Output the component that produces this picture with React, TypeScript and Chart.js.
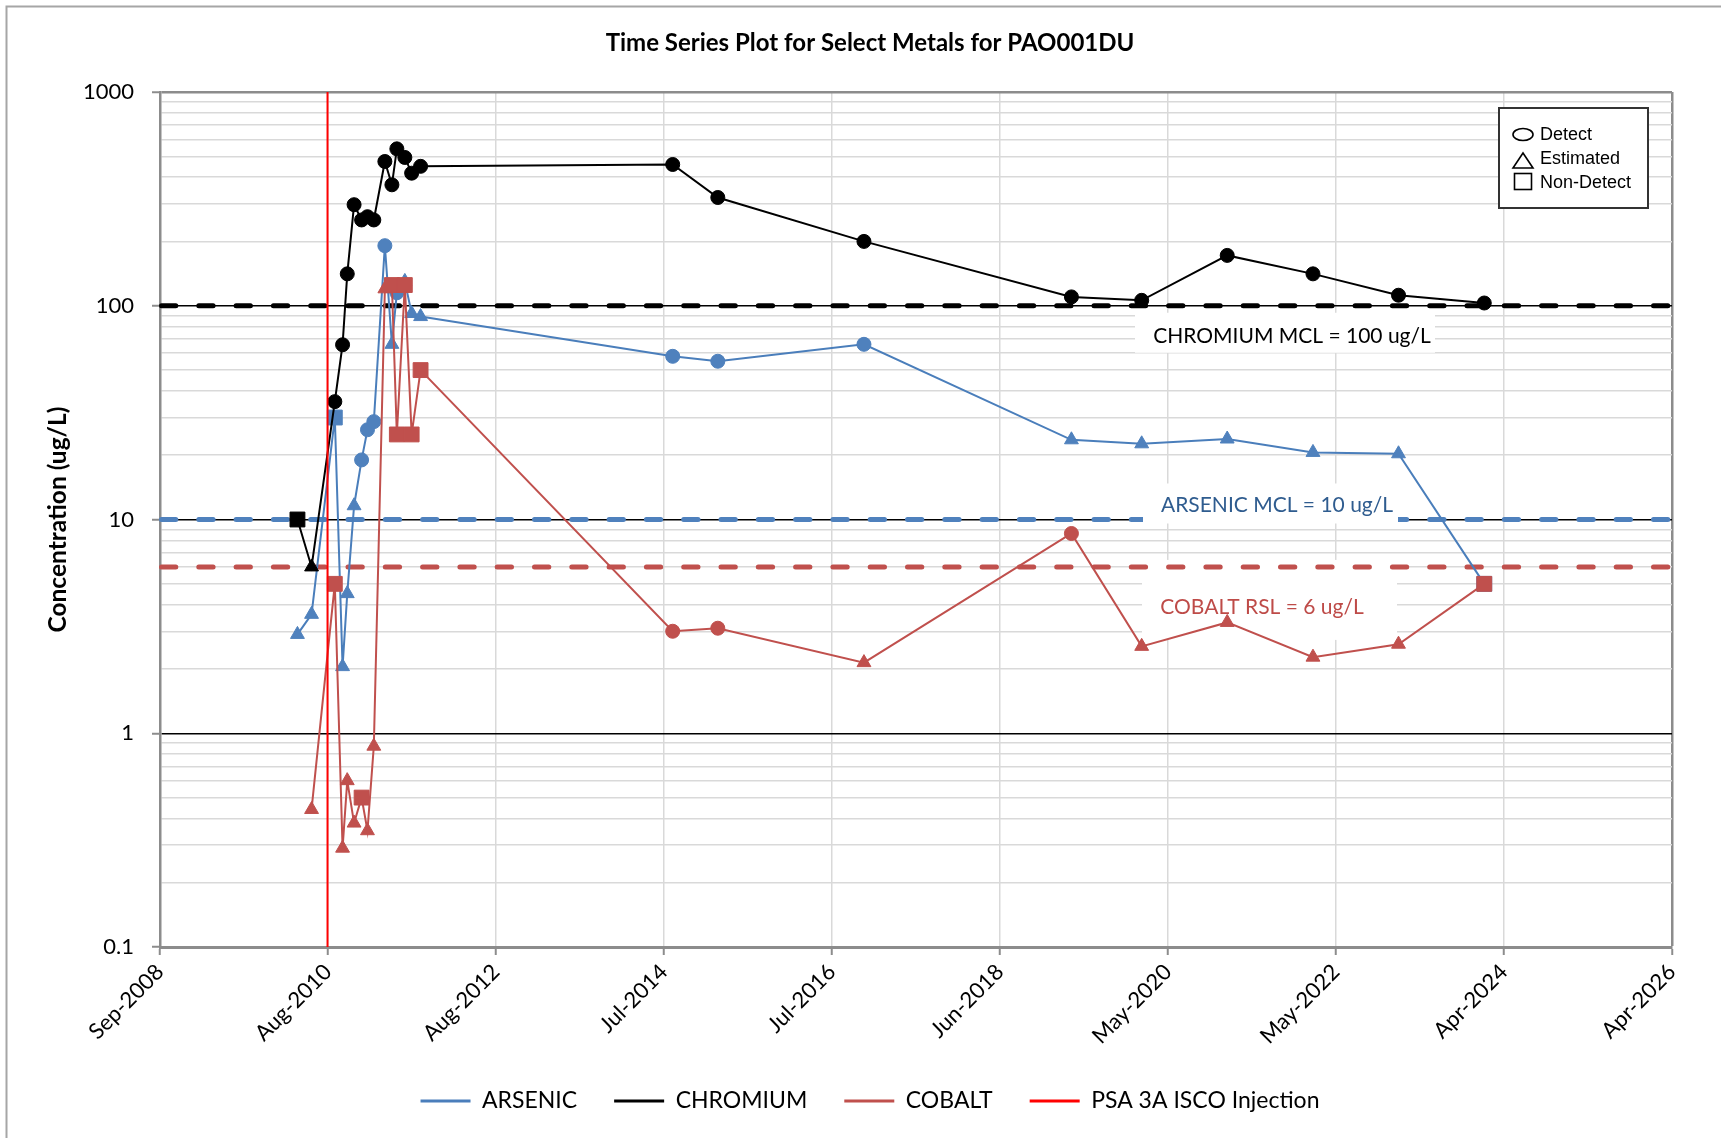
import React, { useEffect, useRef } from "react";
import { Chart, registerables } from "chart.js";

Chart.register(...registerables);

// ---------------- data ----------------
const TITLE = "Time Series Plot for Select Metals for PAO001DU";
const Y_TITLE = "Concentration (ug/L)";

const X_TICK_LABELS = [
  "Sep-2008", "Aug-2010", "Aug-2012", "Jul-2014", "Jul-2016",
  "Jun-2018", "May-2020", "May-2022", "Apr-2024", "Apr-2026",
];
const X_AXIS_START = "2008-09-01";
const X_TICK_STEP_DAYS = 715;

const Y_DECADES = [0.1, 1, 10, 100, 1000];
const Y_TICK_LABELS = ["0.1", "1", "10", "100", "1000"];
const Y_MINOR_STEPS = [2, 3, 4, 5, 6, 7, 8, 9];

const SAMPLE_DATES = [
  "2010-04-09", "2010-06-08", "2010-09-15", "2010-10-18", "2010-11-07", "2010-12-06",
  "2011-01-07", "2011-02-01", "2011-02-28", "2011-04-16", "2011-05-16", "2011-06-06",
  "2011-07-10", "2011-08-08", "2011-09-15", "2014-08-23", "2015-03-03", "2016-11-14",
  "2019-04-16", "2020-02-09", "2021-02-07", "2022-02-07", "2023-02-06", "2024-02-06",
];

const ARSENIC_VALUES = [
  2.9, 3.6, 30, 2.05, 4.5, 11.6, 19, 26.3, 28.7, 191, 66, 115,
  130, 92, 89, 58, 55, 66, 23.6, 22.6, 23.8, 20.6, 20.3, 5,
];
const ARSENIC_FLAGS = [
  "E", "E", "N", "E", "E", "E", "D", "D", "D", "D", "E", "D",
  "E", "E", "E", "D", "D", "D", "E", "E", "E", "E", "E", "N",
];

const CHROMIUM_VALUES = [
  10, 6, 35.6, 65.7, 141, 297, 252, 261, 252, 473, 368, 542,
  494, 417, 449, 458, 321, 200, 110, 106, 172, 141, 112, 103,
];
const CHROMIUM_FLAGS = [
  "N", "E", "D", "D", "D", "D", "D", "D", "D", "D", "D", "D",
  "D", "D", "D", "D", "D", "D", "D", "D", "D", "D", "D", "D",
];

const COBALT_DATES = [
  "2010-06-08", "2010-09-15", "2010-10-18", "2010-11-07", "2010-12-06",
  "2011-01-07", "2011-02-01", "2011-02-28", "2011-04-16", "2011-05-16", "2011-06-06",
  "2011-07-10", "2011-08-08", "2011-09-15", "2014-08-23", "2015-03-03", "2016-11-14",
  "2019-04-16", "2020-02-09", "2021-02-07", "2022-02-07", "2023-02-06", "2024-02-06",
];
const COBALT_VALUES = [
  0.44, 5, 0.29, 0.6, 0.38, 0.5, 0.35, 0.87, 120, 125, 25, 125,
  25, 50, 3.0, 3.1, 2.14, 8.6, 2.55, 3.3, 2.27, 2.61, 5,
];
const COBALT_FLAGS = [
  "E", "N", "E", "E", "E", "N", "E", "E", "E", "N", "N", "N",
  "N", "N", "D", "D", "E", "D", "E", "E", "E", "E", "N",
];

const INJECTION_DATE = "2010-08-15";
const INJECTION_SPAN = [0.1, 1000];

const CHROMIUM_MCL = 100;
const ARSENIC_MCL = 10;
const COBALT_RSL = 6;
const REF_LABELS = ["CHROMIUM MCL = 100 ug/L", "ARSENIC MCL = 10 ug/L", "COBALT RSL = 6 ug/L"];

const SERIES_LABELS = ["ARSENIC", "CHROMIUM", "COBALT", "PSA 3A ISCO Injection"];
const MARKER_KEY_LABELS = ["Detect", "Estimated", "Non-Detect"];

// ---------------- styles ----------------
const FONT = "Lato";
const C_ARSENIC = "#4A7EBB";
const C_ARSENIC_MARK = "#4F81BD";
const C_CHROMIUM = "#000000";
const C_COBALT = "#C0504D";
const C_INJECTION = "#FF0000";
const C_AXIS = "#8C8C8C";
const C_GRID = "#D9D9D9";

const DAY_MS = 86400000;
const toDay = (s: string) => Date.parse(s) / DAY_MS;

const STYLE_BY_FLAG: Record<string, string> = { D: "circle", E: "triangle", N: "rect" };
const RADIUS_BY_FLAG: Record<string, number> = { D: 7, E: 8, N: 10.5 };

function series(label: string, dates: string[], values: number[], flags: string[], line: string, mark: string, order: number) {
  return {
    label,
    order,
    data: dates.map((d, i) => ({ x: toDay(d), y: values[i] })),
    borderColor: line,
    backgroundColor: mark,
    borderWidth: 2,
    pointStyle: flags.map((f) => STYLE_BY_FLAG[f]),
    pointRadius: flags.map((f) => RADIUS_BY_FLAG[f]),
    pointBackgroundColor: mark,
    pointBorderColor: mark,
    pointBorderWidth: 1,
    tension: 0,
    fill: false,
  };
}

const isDecade = (v: number) => Y_DECADES.indexOf(v) >= 0;

const overlayPlugin = {
  id: "overlay",
  beforeDraw(chart: any) {
    const { ctx, width, height } = chart;
    ctx.save();
    ctx.fillStyle = "#ffffff";
    ctx.fillRect(0, 0, width, height);
    ctx.strokeStyle = "#A6A6A6";
    ctx.lineWidth = 2;
    ctx.beginPath();
    ctx.moveTo(6.5, height);
    ctx.lineTo(6.5, 6.5);
    ctx.lineTo(width, 6.5);
    ctx.stroke();
    ctx.restore();
  },
  beforeDatasetsDraw(chart: any) {
    const { ctx, chartArea: a, scales } = chart;
    const y = scales.y;
    const yCr = y.getPixelForValue(CHROMIUM_MCL);
    const yAs = y.getPixelForValue(ARSENIC_MCL);
    const yCo = y.getPixelForValue(COBALT_RSL);
    ctx.save();
    const box = (x0: number, y0: number, x1: number, y1: number) => {
      ctx.fillStyle = "#ffffff";
      ctx.fillRect(x0, y0, x1 - x0, y1 - y0);
    };
    // cobalt label box lies under the dashed lines
    box(a.right - 530, yCo - 7, a.right - 275, yCo + 73);
    const dashed = (yy: number, color: string) => {
      ctx.beginPath();
      ctx.setLineDash([14.3, 23]);
      ctx.lineCap = "round";
      ctx.lineWidth = 5;
      ctx.strokeStyle = color;
      ctx.moveTo(a.left + 1.5, yy);
      ctx.lineTo(a.right, yy);
      ctx.stroke();
    };
    dashed(yCr, C_CHROMIUM);
    dashed(yAs, C_ARSENIC_MARK);
    dashed(yCo, C_COBALT);
    ctx.setLineDash([]);
    box(a.right - 537, yCr + 7, a.right - 237, yCr + 47);
    box(a.right - 529, yAs - 36, a.right - 274, yAs + 4);

    ctx.font = `21px ${FONT}`;
    ctx.textAlign = "center";
    ctx.textBaseline = "middle";
    ctx.fillStyle = "#000000";
    ctx.fillText(REF_LABELS[0], a.right - 380, yCr + 30);
    ctx.fillStyle = "#2F5C8F";
    ctx.fillText(REF_LABELS[1], a.right - 395, yAs - 14);
    ctx.fillStyle = "#BE4B48";
    ctx.fillText(REF_LABELS[2], a.right - 410, yCo + 40);
    ctx.restore();
  },
  afterDraw(chart: any) {
    const { ctx, chartArea: a } = chart;
    const x0 = a.right - 173;
    const y0 = a.top + 16;
    ctx.save();
    ctx.fillStyle = "#ffffff";
    ctx.fillRect(x0, y0, 149, 100);
    ctx.strokeStyle = "#333333";
    ctx.lineWidth = 2;
    ctx.strokeRect(x0, y0, 149, 100);
    ctx.lineWidth = 1.6;
    ctx.strokeStyle = "#000000";
    const sx = x0 + 24;
    ctx.beginPath();
    ctx.ellipse(sx, y0 + 26.5, 10, 6, 0, 0, Math.PI * 2);
    ctx.stroke();
    ctx.beginPath();
    ctx.moveTo(sx, y0 + 45);
    ctx.lineTo(sx + 10, y0 + 60);
    ctx.lineTo(sx - 10, y0 + 60);
    ctx.closePath();
    ctx.stroke();
    ctx.strokeRect(sx - 8.5, y0 + 65.5, 17, 16);
    ctx.font = "18px 'Liberation Sans'";
    ctx.fillStyle = "#000000";
    ctx.textAlign = "left";
    ctx.textBaseline = "middle";
    ctx.fillText(MARKER_KEY_LABELS[0], x0 + 41, y0 + 27);
    ctx.fillText(MARKER_KEY_LABELS[1], x0 + 41, y0 + 51);
    ctx.fillText(MARKER_KEY_LABELS[2], x0 + 41, y0 + 75);
    ctx.restore();
  },
};

export default function App() {
  const ref = useRef<HTMLCanvasElement | null>(null);

  useEffect(() => {
    if (!ref.current) return;
    Chart.defaults.font.family = FONT;
    const xMin = toDay(X_AXIS_START);
    const xMax = xMin + X_TICK_STEP_DAYS * (X_TICK_LABELS.length - 1);
    const inj = toDay(INJECTION_DATE);

    const datasets: any[] = [
      series(SERIES_LABELS[0], SAMPLE_DATES, ARSENIC_VALUES, ARSENIC_FLAGS, C_ARSENIC, C_ARSENIC_MARK, 3),
      series(SERIES_LABELS[1], SAMPLE_DATES, CHROMIUM_VALUES, CHROMIUM_FLAGS, C_CHROMIUM, C_CHROMIUM, 2),
      series(SERIES_LABELS[2], COBALT_DATES, COBALT_VALUES, COBALT_FLAGS, C_COBALT, C_COBALT, 1),
      {
        label: SERIES_LABELS[3],
        order: 0,
        data: INJECTION_SPAN.map((v) => ({ x: inj, y: v })),
        borderColor: C_INJECTION,
        backgroundColor: C_INJECTION,
        borderWidth: 2,
        pointRadius: 0,
        tension: 0,
        fill: false,
      },
    ];

    const chart = new Chart(ref.current, {
      type: "line",
      data: { datasets },
      plugins: [overlayPlugin],
      options: {
        responsive: false,
        animation: false,
        devicePixelRatio: 1,
        events: [],
        layout: { padding: { left: 68, right: 49, top: 0, bottom: 15.5 } },
        plugins: {
          tooltip: { enabled: false },
          title: {
            display: true,
            text: TITLE,
            color: "#000",
            font: { family: FONT, size: 24, weight: "bold" },
            padding: { top: 28.6, bottom: 34.6 },
          },
          legend: {
            display: true,
            position: "bottom",
            labels: {
              font: { family: FONT, size: 23 },
              color: "#000",
              usePointStyle: true,
              pointStyleWidth: 50,
              padding: 37,
              generateLabels: (c: any) =>
                c.data.datasets.map((ds: any, i: number) => ({
                  text: ds.label,
                  fillStyle: ds.borderColor,
                  strokeStyle: ds.borderColor,
                  lineWidth: 3,
                  pointStyle: "line",
                  hidden: false,
                  datasetIndex: i,
                  fontColor: "#000",
                })),
            },
          },
        },
        scales: {
          x: {
            type: "linear",
            min: xMin,
            max: xMax,
            afterBuildTicks: (scale: any) => {
              scale.ticks = X_TICK_LABELS.map((_, i) => ({ value: xMin + i * X_TICK_STEP_DAYS }));
            },
            afterFit: (scale: any) => {
              scale.height = 105.5;
            },
            ticks: {
              autoSkip: false,
              maxRotation: 45,
              minRotation: 45,
              padding: 4,
              color: "#000",
              font: { family: FONT, size: 22 },
              callback: (_v: any, i: number) => X_TICK_LABELS[i],
            },
            grid: {
              color: (c: any) => (c.index === X_TICK_LABELS.length - 1 ? C_AXIS : C_GRID),
              lineWidth: (c: any) => (c.index === X_TICK_LABELS.length - 1 ? 2.5 : 1.5),
              tickColor: C_AXIS,
              tickLength: 8,
              tickWidth: 2,
            },
            border: { display: true, color: C_AXIS, width: 3 },
          },
          y: {
            type: "logarithmic",
            min: Y_DECADES[0],
            max: Y_DECADES[Y_DECADES.length - 1],
            afterBuildTicks: (scale: any) => {
              const ticks: any[] = [];
              Y_DECADES.forEach((d, i) => {
                ticks.push({ value: d });
                if (i < Y_DECADES.length - 1) {
                  Y_MINOR_STEPS.forEach((m) => ticks.push({ value: +(d * m).toPrecision(6) }));
                }
              });
              scale.ticks = ticks;
            },
            afterFit: (scale: any) => {
              scale.width = 92;
            },
            ticks: {
              autoSkip: false,
              padding: 18,
              color: "#000",
              font: { family: FONT, size: 22 },
              callback: (v: any) => {
                const i = Y_DECADES.indexOf(v);
                return i >= 0 ? Y_TICK_LABELS[i] : "";
              },
            },
            title: {
              display: true,
              text: Y_TITLE,
              color: "#000",
              font: { family: FONT, size: 24.5, weight: "bold" },
              padding: { top: -24.7, bottom: 0 },
            },
            grid: {
              color: (c: any) => {
                const v = c.tick && c.tick.value;
                if (v === Y_DECADES[0] || v === Y_DECADES[Y_DECADES.length - 1]) return C_AXIS;
                if (isDecade(v)) return "#000000";
                return C_GRID;
              },
              lineWidth: (c: any) => {
                const v = c.tick && c.tick.value;
                if (v === Y_DECADES[Y_DECADES.length - 1]) return 2.5;
                if (isDecade(v)) return 1.5;
                return 1.4;
              },
              tickColor: (c: any) => (isDecade(c.tick && c.tick.value) ? C_AXIS : "rgba(0,0,0,0)"),
              tickLength: 8,
              tickWidth: 2,
            },
            border: { display: true, color: C_AXIS, width: 2.5 },
          },
        },
      } as any,
    });
    return () => chart.destroy();
  }, []);

  return (
    <div style={{ position: "fixed", left: 0, top: 0, width: 1721, height: 1138, background: "#fff" }}>
      <canvas ref={ref} width={1721} height={1138} style={{ display: "block", width: 1721, height: 1138 }} />
    </div>
  );
}
